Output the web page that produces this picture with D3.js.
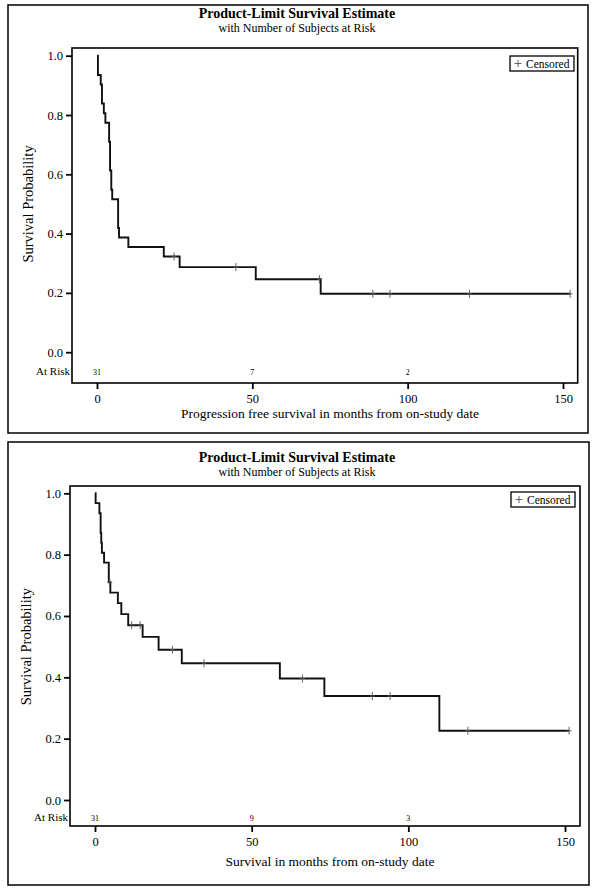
<!DOCTYPE html>
<html><head><meta charset="utf-8">
<script src="https://cdn.jsdelivr.net/npm/d3@7"></script>
<style>body{margin:0;background:#fff}svg{display:block}</style>
</head><body>
<script>
// ---------- data ----------
const pfsEventTimes = [0.3, 1.2, 1.6, 2.2, 2.7, 3.9, 4.2, 4.6, 4.9, 6.8, 7.1, 10.1, 21.5, 26.6, 51.1, 72.0];
const pfsEventSurv  = [0.935, 0.903, 0.839, 0.806, 0.774, 0.710, 0.613, 0.548, 0.516, 0.419, 0.387, 0.355, 0.323, 0.287, 0.246, 0.197];
const pfsEndTime = 152.3;
const pfsCensorTimes = [24.8, 44.7, 71.6, 88.8, 94.3, 119.9, 152.3];
const pfsCensorSurv  = [0.323, 0.287, 0.246, 0.197, 0.197, 0.197, 0.197];
const pfsAtRisk = [31, 7, 2];

const osEventTimes = [0.2, 1.4, 1.8, 2.0, 2.2, 2.9, 4.4, 4.9, 7.3, 8.4, 10.6, 15.2, 20.3, 27.7, 59.0, 73.2, 109.9];
const osEventSurv  = [0.968, 0.935, 0.871, 0.839, 0.806, 0.774, 0.710, 0.676, 0.642, 0.606, 0.570, 0.532, 0.490, 0.446, 0.396, 0.339, 0.226];
const osEndTime = 151.3;
const osCensorTimes = [4.7, 11.7, 14.4, 24.7, 34.8, 66.2, 88.5, 94.2, 119.0, 151.3];
const osCensorSurv  = [0.710, 0.570, 0.570, 0.490, 0.446, 0.396, 0.339, 0.339, 0.226, 0.226];
const osAtRisk = [31, 9, 3];

const atRiskTimes = [0, 50, 100];
const xTicks = [0, 50, 100, 150];
const yTicks = [0, 0.2, 0.4, 0.6, 0.8, 1.0];
const titleText = "Product-Limit Survival Estimate";
const subtitleText = "with Number of Subjects at Risk";
const legendText = "Censored";

// ---------- drawing ----------
const W = 596, H = 890;
const svg = d3.select("body").append("svg").attr("width", W).attr("height", H)
  .style("font-family", "'Liberation Serif', 'DejaVu Serif', serif");

function panel(cfg) {
  const g = svg.append("g");
  // outer border
  g.append("rect").attr("x", cfg.box[0]).attr("y", cfg.box[1])
    .attr("width", cfg.box[2] - cfg.box[0]).attr("height", cfg.box[3] - cfg.box[1])
    .attr("fill", "none").attr("stroke", "#000").attr("stroke-width", 1.5);
  // titles
  g.append("text").attr("x", 297).attr("y", cfg.titleY).attr("text-anchor", "middle")
    .attr("font-size", 14).attr("font-weight", "bold").text(titleText);
  g.append("text").attr("x", 297).attr("y", cfg.titleY + 13.5).attr("text-anchor", "middle")
    .attr("font-size", 12).text(subtitleText);

  const x = d3.scaleLinear().domain([0, 150]).range(cfg.xRange);
  const y = d3.scaleLinear().domain([0, 1]).range(cfg.yRange);

  // frame
  const [fl, ft, fr, fb] = cfg.frame;
  g.append("rect").attr("x", fl).attr("y", ft).attr("width", fr - fl).attr("height", fb - ft)
    .attr("fill", "none").attr("stroke", "#000").attr("stroke-width", 1.6);

  // y axis
  const ya = g.append("g").attr("transform", `translate(${fl},0)`)
    .call(d3.axisLeft(y).tickValues(yTicks).tickFormat(d3.format(".1f")).tickSize(6).tickPadding(3));
  ya.select(".domain").remove();
  ya.selectAll("line").attr("stroke", "#000").attr("stroke-width", 1.8);
  ya.selectAll("text").attr("font-family", "'Liberation Serif', serif").attr("font-size", 12.5).attr("fill", "#000");

  // x axis
  const xa = g.append("g").attr("transform", `translate(0,${fb})`)
    .call(d3.axisBottom(x).tickValues(xTicks).tickFormat(d3.format("d")).tickSize(6).tickPadding(5));
  xa.select(".domain").remove();
  xa.selectAll("line").attr("stroke", "#000").attr("stroke-width", 1.8);
  xa.selectAll("text").attr("font-family", "'Liberation Serif', serif").attr("font-size", 12.5).attr("fill", "#000");

  // axis titles
  g.append("text").attr("transform", `translate(${cfg.yTitleX},${(y(0) + y(1)) / 2}) rotate(-90)`)
    .attr("text-anchor", "middle").attr("font-size", 14.5).text("Survival Probability");
  g.append("text").attr("x", (x(0) + x(150)) / 2).attr("y", cfg.xTitleY).attr("text-anchor", "middle")
    .attr("font-size", 13.5).text(cfg.xTitle);

  // at risk
  g.append("text").attr("x", fl - 2).attr("y", cfg.atRiskY).attr("text-anchor", "end")
    .attr("font-size", 11).text("At Risk");
  g.selectAll(".ar").data(cfg.atRisk).enter().append("text")
    .attr("x", (d, i) => x(atRiskTimes[i])).attr("y", cfg.atRiskY).attr("text-anchor", "middle")
    .attr("font-size", 8).text(d => d);

  // survival curve
  const pts = [[0, 1]].concat(cfg.times.map((t, i) => [t, cfg.surv[i]]));
  pts.push([cfg.endTime, cfg.surv[cfg.surv.length - 1]]);
  const line = d3.line().x(d => x(d[0])).y(d => y(d[1])).curve(d3.curveStepAfter);
  g.append("path").attr("d", line(pts)).attr("fill", "none").attr("stroke", "#111")
    .attr("stroke-width", 1.9);

  // censor marks
  const cm = cfg.cTimes.map((t, i) => [t, cfg.cSurv[i]]);
  g.selectAll(".cm").data(cm).enter().append("path")
    .attr("d", d => `M${x(d[0])},${y(d[1]) - 4}V${y(d[1]) + 4}M${x(d[0]) - 2.5},${y(d[1])}H${x(d[0]) + 2.5}`)
    .attr("stroke", "#555").attr("stroke-width", 0.9).attr("fill", "none");

  // legend
  const lx = cfg.legend[0], ly = cfg.legend[1];
  g.append("rect").attr("x", lx).attr("y", ly).attr("width", 64).attr("height", 15)
    .attr("fill", "#fff").attr("stroke", "#000").attr("stroke-width", 1.3);
  g.append("path").attr("d", `M${lx + 8},${ly + 4}V${ly + 11}M${lx + 4.5},${ly + 7.5}H${lx + 11.5}`)
    .attr("stroke", "#555").attr("stroke-width", 0.9);
  g.append("text").attr("x", lx + 16).attr("y", ly + 11.5).attr("font-size", 11.5).text(legendText);
}

panel({
  box: [8, 5, 588, 433], titleY: 18,
  frame: [72, 48, 577.7, 383],
  xRange: [97, 563], yRange: [352.2, 55.7],
  yTitleX: 33, xTitleY: 418, atRiskY: 375,
  xTitle: "Progression free survival in months from on-study date",
  atRisk: pfsAtRisk,
  times: pfsEventTimes, surv: pfsEventSurv, endTime: pfsEndTime,
  cTimes: pfsCensorTimes, cSurv: pfsCensorSurv,
  legend: [510, 56]
});

panel({
  box: [8, 442, 589, 885], titleY: 462,
  frame: [70, 486, 580, 826],
  xRange: [95, 565], yRange: [800, 493.3],
  yTitleX: 31, xTitleY: 866, atRiskY: 821,
  xTitle: "Survival in months from on-study date",
  atRisk: osAtRisk,
  times: osEventTimes, surv: osEventSurv, endTime: osEndTime,
  cTimes: osCensorTimes, cSurv: osCensorSurv,
  legend: [511, 492]
});
</script>
</body></html>
